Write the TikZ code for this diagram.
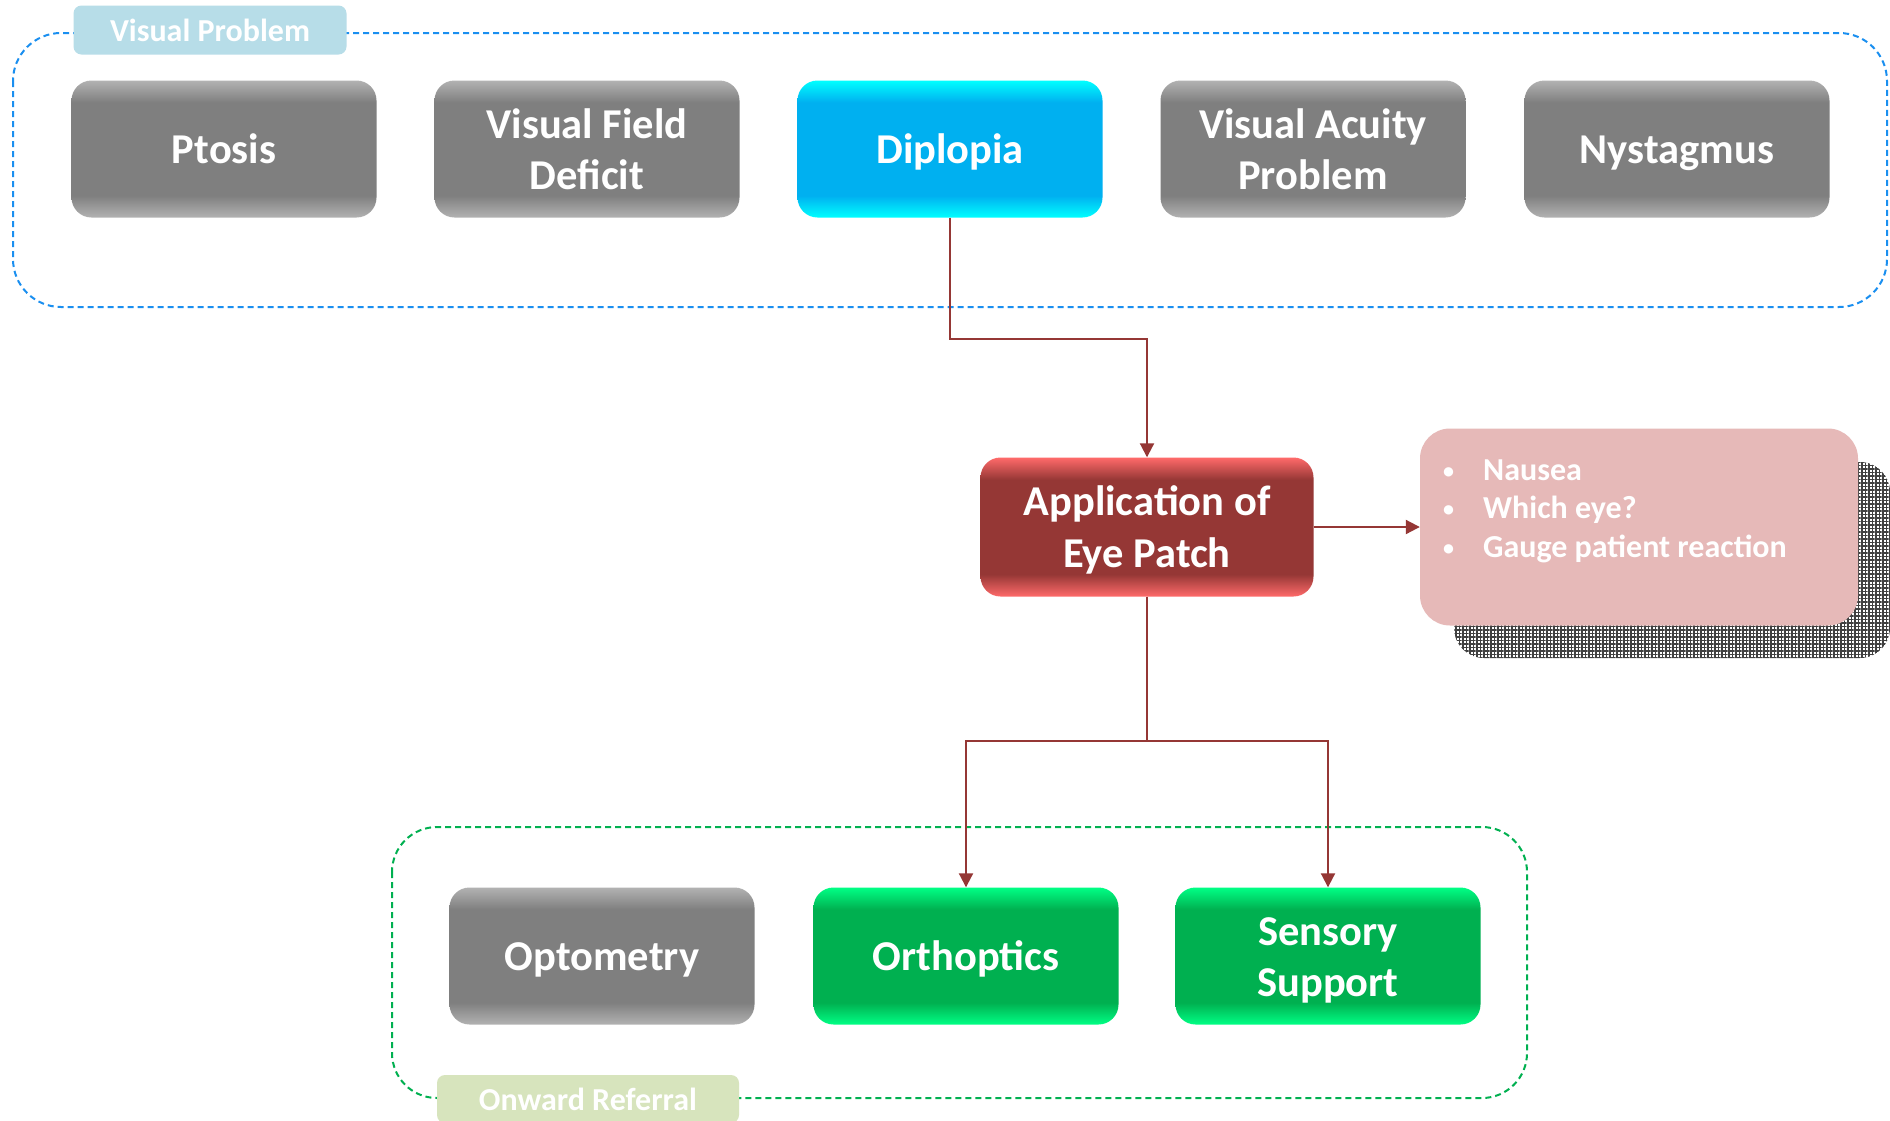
\documentclass[tikz,border=0pt]{standalone}
\usepackage{fontspec}
\setmainfont{Carlito}
\usetikzlibrary{arrows.meta,patterns.meta}
\definecolor{gmid}{HTML}{7F7F7F}
\definecolor{gedge}{HTML}{B2B2B2}
\definecolor{bmid}{HTML}{00B0F0}
\definecolor{bedge}{HTML}{00FFFF}
\definecolor{rmid}{HTML}{953735}
\definecolor{redge}{HTML}{FF6A6A}
\definecolor{emid}{HTML}{00B050}
\definecolor{eedge}{HTML}{00FF85}
\definecolor{arrowred}{HTML}{953735}
\definecolor{dashblue}{HTML}{1A8FF0}
\definecolor{dashgreen}{HTML}{00B050}
\definecolor{lblblue}{HTML}{B7DDE8}
\definecolor{lblgreen}{HTML}{D7E4BD}
\definecolor{pink}{HTML}{E6B9B8}
\pgfdeclareverticalshading{glgray}{100bp}{color(0bp)=(gedge); color(25bp)=(gedge); color(33bp)=(gmid); color(67bp)=(gmid); color(75bp)=(gedge); color(100bp)=(gedge)}
\pgfdeclareverticalshading{glblue}{100bp}{color(0bp)=(bedge); color(25bp)=(bedge); color(33bp)=(bmid); color(67bp)=(bmid); color(75bp)=(bedge); color(100bp)=(bedge)}
\pgfdeclareverticalshading{glred}{100bp}{color(0bp)=(redge); color(25bp)=(redge); color(33bp)=(rmid); color(67bp)=(rmid); color(75bp)=(redge); color(100bp)=(redge)}
\pgfdeclareverticalshading{glgreen}{100bp}{color(0bp)=(eedge); color(25bp)=(eedge); color(33bp)=(emid); color(67bp)=(emid); color(75bp)=(eedge); color(100bp)=(eedge)}
\tikzset{
  box/.style={rectangle, rounded corners=20pt, minimum width=305pt, minimum height=137pt,
    inner sep=0pt, align=center, text=white, text height=29pt, text depth=0pt,
    font=\fontsize{42.5}{51}\selectfont\bfseries},
  twoline/.style={text height=80pt},
  graybox/.style={box, shading=glgray},
  bluebox/.style={box, shading=glblue},
  redbox/.style={box, shading=glred, minimum width=333pt, minimum height=139pt,
    font=\fontsize{42.5}{52}\selectfont\bfseries, text height=81pt},
  greenbox/.style={box, shading=glgreen},
  container/.style={rounded corners=48pt, line width=2pt, dash pattern=on 6pt off 4pt},
  lbl/.style={rectangle, rounded corners=8pt, inner sep=0pt, text=white,
    font=\fontsize{32}{36}\selectfont\bfseries},
  arr/.style={draw=arrowred, line width=2pt, -{Triangle[length=14pt,width=14pt]}},
  notetext/.style={anchor=base west, text=white, inner sep=0pt,
    font=\fontsize{32}{38}\selectfont\bfseries},
}
\newcommand{\mybul}{\makebox[40pt][l]{\raisebox{2pt}{\fontsize{22}{22}\selectfont•}}}
\begin{document}
\begin{tikzpicture}[x=1pt,y=-1pt]
\useasboundingbox[fill=white] (0,0) rectangle (1890,1120);
% containers
\draw[container, draw=dashblue] (13,33) rectangle (1887,307);
\draw[container, draw=dashgreen, rounded corners=45pt] (392,827) rectangle (1527,1098);
\node[lbl, fill=lblblue, minimum width=273pt, minimum height=49pt] (lvp) at (210,30) {Visual Problem};
\node[lbl, fill=lblgreen, minimum width=302pt, minimum height=48pt] (lor) at (588,1099) {Onward Referral};
% top row
\node[graybox] (ptosis) at (224,149) {Ptosis};
\node[graybox, twoline] (vfd) at (587,149) {Visual Field\\Deficit};
\node[bluebox] (diplopia) at (950,149) {Diplopia};
\node[graybox, twoline] (vap) at (1313,149) {Visual Acuity\\Problem};
\node[graybox] (nyst) at (1677,149) {Nystagmus};
% middle
\node[redbox] (app) at (1147,527) {Application of\\Eye Patch};
\fill[pattern={Hatch[distance=3.5pt,line width=1.2pt]}, pattern color=black!75, rounded corners=30pt] (1454,462) rectangle (1890,658);
\node[rectangle, fill=pink, rounded corners=30pt, minimum width=438pt, minimum height=197pt] (notes) at (1639,527) {};
\node[notetext] (n1) at (1443,480) {\mybul Nausea};
\node[notetext] (n2) at (1443,518) {\mybul Which eye?};
\node[notetext] (n3) at (1443,557) {\mybul Gauge patient reaction};
% bottom row
\node[graybox] (opto) at (602,956) {Optometry};
\node[greenbox] (ortho) at (966,956) {Orthoptics};
\node[greenbox, twoline] (sens) at (1328,956) {Sensory\\Support};
% connectors
\draw[arr] (diplopia.south) -- ++(0,121) -| (app.north);
\draw[arr] (app.east) -- (notes.west);
\draw[arr] (app.south) -- ++(0,144) -| (ortho.north);
\draw[arr] (app.south) -- ++(0,144) -| (sens.north);
\end{tikzpicture}
\end{document}
